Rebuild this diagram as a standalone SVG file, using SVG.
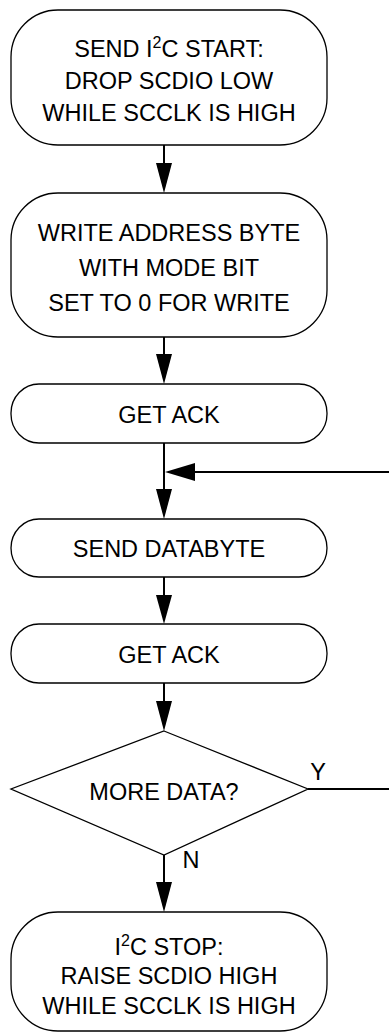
<svg xmlns="http://www.w3.org/2000/svg" width="389" height="1032" viewBox="0 0 389 1032">
<style>
.box{fill:#fff;stroke:#000;stroke-width:1.3}
.t{font-family:"Liberation Sans",Arial,sans-serif;font-size:23.5px;fill:#000;text-anchor:middle}
.c{stroke:#000;stroke-width:2;fill:none}
.ah{fill:#000;stroke:none}
</style>
<rect width="389" height="1032" fill="#fff"/>
<g id="n1">
<rect class="box" x="11" y="10" width="316" height="135" rx="47" ry="47"/>
<text class="t" x="169" y="57">SEND I<tspan font-size="16" dy="-9">2</tspan><tspan dy="9">C START:</tspan></text>
<text class="t" x="169" y="89">DROP SCDIO LOW</text>
<text class="t" x="169" y="121">WHILE SCCLK IS HIGH</text>
</g>
<g id="n2">
<rect class="box" x="11" y="193" width="316" height="144" rx="47" ry="47"/>
<text class="t" x="169" y="241">WRITE ADDRESS BYTE</text>
<text class="t" x="169" y="276">WITH MODE BIT</text>
<text class="t" x="169" y="311">SET TO 0 FOR WRITE</text>
</g>
<g id="n3">
<rect class="box" x="11" y="384" width="316" height="59" rx="28" ry="29"/>
<text class="t" x="169" y="423">GET ACK</text>
</g>
<g id="n4">
<rect class="box" x="11" y="519" width="316" height="58" rx="28" ry="29"/>
<text class="t" x="169" y="557">SEND DATABYTE</text>
</g>
<g id="n5">
<rect class="box" x="11" y="624" width="316" height="59" rx="28" ry="29"/>
<text class="t" x="169" y="663">GET ACK</text>
</g>
<g id="n6">
<polygon class="box" points="164,731 308,789 164,855 11,789"/>
<text class="t" x="164" y="800">MORE DATA?</text>
</g>
<g id="n7">
<rect class="box" x="11" y="912" width="316" height="119" rx="47" ry="47"/>
<text class="t" x="169" y="955">I<tspan font-size="16" dy="-9">2</tspan><tspan dy="9">C STOP:</tspan></text>
<text class="t" x="169" y="984">RAISE SCDIO HIGH</text>
<text class="t" x="169" y="1014">WHILE SCCLK IS HIGH</text>
</g>
<g id="connectors">
<line class="c" x1="164" y1="145" x2="164" y2="165"/>
<polygon class="ah" points="156,163 172,163 164,193"/>
<line class="c" x1="164" y1="337" x2="164" y2="356"/>
<polygon class="ah" points="156,354 172,354 164,384"/>
<line class="c" x1="164" y1="443" x2="164" y2="491"/>
<polygon class="ah" points="156,489 172,489 164,519"/>
<line class="c" x1="389" y1="472" x2="193" y2="472"/>
<polygon class="ah" points="195,463 195,481 165,472"/>
<line class="c" x1="164" y1="577" x2="164" y2="597"/>
<polygon class="ah" points="156,595 172,595 164,624"/>
<line class="c" x1="164" y1="683" x2="164" y2="703"/>
<polygon class="ah" points="156,701 172,701 164,731"/>
<line class="c" x1="308" y1="789" x2="389" y2="789"/>
<text class="t" x="318" y="780">Y</text>
<line class="c" x1="164" y1="855" x2="164" y2="884"/>
<polygon class="ah" points="156,882 172,882 164,912"/>
<text class="t" x="191" y="868">N</text>
</g>
</svg>
